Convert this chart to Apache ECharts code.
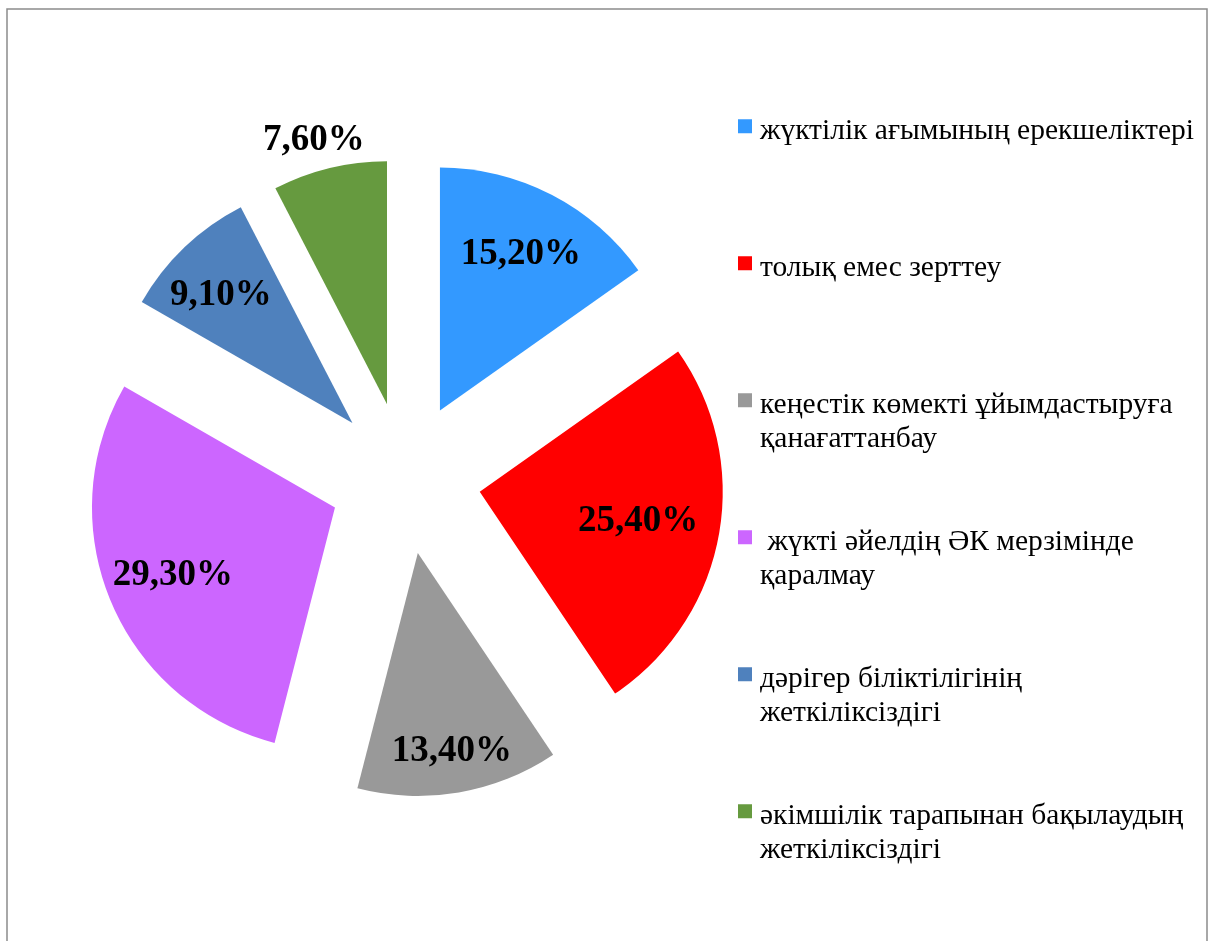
<!DOCTYPE html>
<html>
<head>
<meta charset="utf-8">
<script src="https://cdn.jsdelivr.net/npm/echarts@6/dist/echarts.min.js"></script>
<style>html,body{margin:0;padding:0;background:#fff;}#main{width:1214px;height:941px;}</style>
</head>
<body>
<div id="main"></div>
<script>
const categories = [
  'жүктілік ағымының ерекшеліктері',
  'толық емес зерттеу',
  'кеңестік көмекті ұйымдастыруға қанағаттанбау',
  ' жүкті әйелдің ӘК мерзімінде қаралмау',
  'дәрігер біліктілігінің жеткіліксіздігі',
  'әкімшілік тарапынан бақылаудың жеткіліксіздігі'
];
const legendLines = [
  ['жүктілік ағымының ерекшеліктері', ''],
  ['толық емес зерттеу', ''],
  ['кеңестік көмекті ұйымдастыруға', 'қанағаттанбау'],
  [' жүкті әйелдің ӘК мерзімінде', 'қаралмау'],
  ['дәрігер біліктілігінің', 'жеткіліксіздігі'],
  ['әкімшілік тарапынан бақылаудың', 'жеткіліксіздігі']
];
const values = [15.2, 25.4, 13.4, 29.3, 9.1, 7.6];
const colors = ['#3399FF', '#FF0000', '#999999', '#CC66FF', '#4F81BD', '#669A3F'];

const fmt = v => v.toFixed(2).replace('.', ',') + '%';
const FONT = '"Liberation Serif", "Times New Roman", serif';
const CENTER = [405, 478];
const R = 243;
const OFFSET = 76;
// small label nudges (padding shifts the text inside its box)
const LABEL_PAD = [[0, 0, 0, 0], [0, 0, 0, 0], [0, 0, 0, 0], [0, 0, 14, 0], [16, 20, 0, 0], [6, 18, 0, 0]];

const chart = echarts.init(document.getElementById('main'), null, {renderer: 'canvas'});

const mainData = categories.map((c, i) => ({name: c, value: values[i], selected: true, itemStyle: {color: colors[i]}}));

const rich = {
  t: {fontFamily: FONT, fontSize: 29.5, color: '#000', lineHeight: 34.5, height: 25, verticalAlign: 'bottom'},
  g: {width: 8, height: 14},
  s: {width: 22, height: 14}
};
colors.forEach((c, i) => { rich['i' + i] = {width: 14, height: 14, backgroundColor: c, verticalAlign: 'middle'}; });

const labelCommon = {
  position: 'inside',
  formatter: p => fmt(p.value),
  fontFamily: FONT,
  fontSize: 37,
  fontWeight: 'bold',
  color: '#000'
};

// transparent companion pies that only carry the value labels at a chosen radial distance
function labelSeries(showIdx, midR) {
  return {
    type: 'pie',
    center: CENTER,
    radius: [midR - 40, midR + 40],
    startAngle: 90,
    clockwise: true,
    selectedMode: 'multiple',
    selectedOffset: OFFSET,
    silent: true,
    emphasis: {disabled: true},
    itemStyle: {color: 'rgba(0,0,0,0)'},
    label: labelCommon,
    labelLine: {show: false},
    data: categories.map((c, i) => ({
      name: c, value: values[i], selected: true,
      label: {show: showIdx.includes(i), padding: LABEL_PAD[i]}
    }))
  };
}

chart.setOption({
  animation: false,
  backgroundColor: '#fff',
  graphic: [{
    type: 'rect',
    shape: {x: 7, y: 9, width: 1200, height: 960},
    style: {fill: 'none', stroke: '#8c8c8c', lineWidth: 1.5},
    silent: true
  }],
  legend: {
    orient: 'vertical',
    left: 728,
    top: 104,
    icon: 'none',
    itemWidth: 0,
    itemHeight: 0,
    itemGap: 65.5,
    selectedMode: false,
    data: categories,
    formatter: name => {
      const i = categories.indexOf(name);
      const [l1, l2] = legendLines[i];
      return '{i' + i + '|}{g|}{t|' + l1 + '}\n{s|}{t|' + (l2 || ' ') + '}';
    },
    textStyle: {fontFamily: FONT, fontSize: 29.5, color: '#000', lineHeight: 34.5, rich: rich}
  },
  series: [
    {
      type: 'pie',
      center: CENTER,
      radius: [0, R],
      startAngle: 90,
      clockwise: true,
      selectedMode: 'multiple',
      selectedOffset: OFFSET,
      silent: true,
      emphasis: {disabled: true},
      label: {show: false},
      labelLine: {show: false},
      data: mainData
    },
    labelSeries([0, 3, 4], 173),
    labelSeries([1], 158),
    labelSeries([2], 198),
    labelSeries([5], 268)
  ]
});
</script>
</body>
</html>
